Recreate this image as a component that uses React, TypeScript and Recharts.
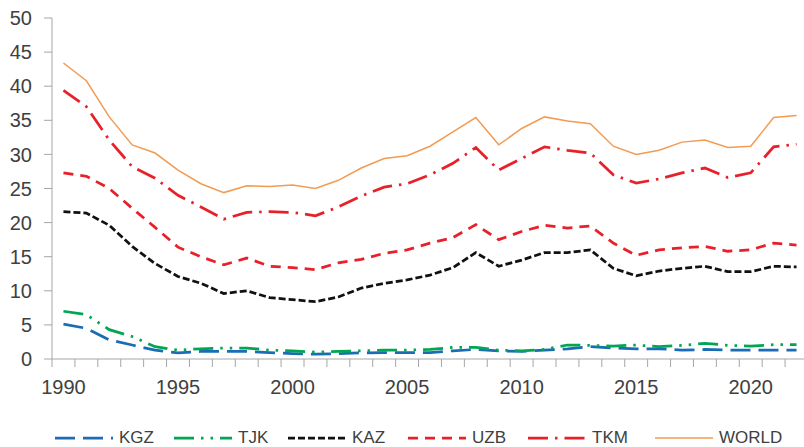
import React from 'react';
import { LineChart, Line, XAxis, YAxis, Legend } from 'recharts';

const YEARS = [1990, 1991, 1992, 1993, 1994, 1995, 1996, 1997, 1998, 1999, 2000, 2001, 2002, 2003, 2004, 2005, 2006, 2007, 2008, 2009, 2010, 2011, 2012, 2013, 2014, 2015, 2016, 2017, 2018, 2019, 2020, 2021, 2022];
const X_LABELS = [1990, 1995, 2000, 2005, 2010, 2015, 2020];
const Y_TICKS = [0, 5, 10, 15, 20, 25, 30, 35, 40, 45, 50];

const KGZ = [5.1, 4.5, 2.8, 2.05, 1.3, 0.9, 1.1, 1.1, 1.1, 0.95, 0.8, 0.7, 0.8, 0.9, 0.95, 0.95, 0.95, 1.2, 1.4, 1.2, 1.1, 1.3, 1.5, 1.8, 1.6, 1.5, 1.5, 1.3, 1.4, 1.3, 1.3, 1.3, 1.3];
const TJK = [7.0, 6.5, 4.3, 3.3, 1.8, 1.3, 1.5, 1.6, 1.6, 1.3, 1.2, 1.0, 1.1, 1.2, 1.3, 1.3, 1.4, 1.7, 1.7, 1.3, 1.2, 1.4, 2.05, 2.0, 1.9, 2.05, 1.8, 2.0, 2.3, 2.0, 1.9, 2.1, 2.1];
const KAZ = [21.6, 21.4, 19.6, 16.5, 14.0, 12.1, 11.1, 9.6, 10.0, 9.0, 8.7, 8.4, 9.1, 10.4, 11.1, 11.6, 12.3, 13.4, 15.6, 13.6, 14.5, 15.6, 15.6, 16.0, 13.3, 12.2, 12.9, 13.3, 13.6, 12.8, 12.8, 13.6, 13.5];
const UZB = [27.3, 26.8, 25.0, 22.1, 19.3, 16.4, 15.0, 13.8, 14.8, 13.6, 13.4, 13.1, 14.1, 14.6, 15.5, 16.0, 17.0, 17.8, 19.7, 17.5, 18.7, 19.6, 19.2, 19.5, 17.0, 15.2, 16.0, 16.3, 16.5, 15.8, 16.0, 17.0, 16.7];
const TKM = [39.4, 37.0, 32.1, 28.2, 26.5, 24.0, 22.3, 20.5, 21.5, 21.6, 21.5, 21.0, 22.3, 23.9, 25.2, 25.7, 27.0, 28.7, 31.0, 27.7, 29.4, 31.1, 30.6, 30.2, 27.0, 25.8, 26.4, 27.3, 28.0, 26.6, 27.3, 31.1, 31.5];
const WORLD = [43.4, 40.8, 35.5, 31.4, 30.2, 27.7, 25.7, 24.4, 25.4, 25.3, 25.5, 25.0, 26.2, 28.0, 29.4, 29.8, 31.2, 33.3, 35.4, 31.4, 33.8, 35.5, 34.9, 34.5, 31.2, 30.0, 30.6, 31.8, 32.1, 31.0, 31.2, 35.4, 35.7];

const FONT = '"Liberation Sans", Arial, sans-serif';
const TEXT_COLOR = '#404040';
const AXIS_COLOR = '#a6a6a6';

const SERIES = [
  { key: 'KGZ', values: KGZ, color: '#1a6db4', width: 2.75, dash: '20 8' },
  { key: 'TJK', values: TJK, color: '#00a651', width: 2.75, dash: '20 7 2.5 7 2.5 7' },
  { key: 'KAZ', values: KAZ, color: '#111111', width: 2.75, dash: '7 3' },
  { key: 'UZB', values: UZB, color: '#e8202a', width: 2.75, dash: '10 7' },
  { key: 'TKM', values: TKM, color: '#e8202a', width: 2.75, dash: '20 7 2.5 7' },
  { key: 'WORLD', values: WORLD, color: '#f29b52', width: 1.5, dash: undefined as string | undefined },
];

const data = YEARS.map((year, i) => {
  const row: Record<string, number> = { year };
  SERIES.forEach((s) => {
    row[s.key] = s.values[i];
  });
  return row;
});

// category boundaries (tick marks) plus label positions
const BOUNDARIES = [YEARS[0] - 0.5, ...YEARS.map((y) => y + 0.5)];
const X_TICKS = [...BOUNDARIES, ...X_LABELS].sort((a, b) => a - b);

const LEGEND_LEFT = [55, 174, 288, 408, 528, 655];

const XTick = (props: any) => {
  const { x, y, payload } = props;
  const v = payload.value as number;
  if (Number.isInteger(v)) {
    return (
      <text x={x} y={y + 35} textAnchor="middle" fill={TEXT_COLOR} fontSize={20} fontFamily={FONT}>
        {v}
      </text>
    );
  }
  return <line x1={x} x2={x} y1={y} y2={y + 8} stroke={AXIS_COLOR} strokeWidth={1} />;
};

const LegendContent = () => (
  <div style={{ position: 'relative', width: 804, height: 24, fontFamily: FONT, fontSize: 17, color: TEXT_COLOR }}>
    {SERIES.map((s, i) => (
      <div
        key={s.key}
        style={{ position: 'absolute', left: LEGEND_LEFT[i], top: 0, height: 24, display: 'flex', alignItems: 'center', whiteSpace: 'nowrap' }}
      >
        <svg width={58} height={24} style={{ display: 'block' }}>
          <line x1={0} x2={58} y1={12} y2={12} stroke={s.color} strokeWidth={s.width} strokeDasharray={s.dash} />
        </svg>
        <span style={{ marginLeft: 6, lineHeight: '24px' }}>{s.key}</span>
      </div>
    ))}
  </div>
);

export default function App() {
  return (
    <div style={{ position: 'absolute', left: 0, top: 0, width: 804, height: 447, overflow: 'hidden', background: '#ffffff' }}>
      <LineChart width={820} height={447} data={data} margin={{ top: 18, right: 12, bottom: 48, left: 0 }}>
        <XAxis
          dataKey="year"
          type="number"
          domain={[BOUNDARIES[0], BOUNDARIES[BOUNDARIES.length - 1]]}
          ticks={X_TICKS}
          interval={0}
          tickSize={0}
          tickMargin={0}
          tickLine={false}
          axisLine={{ stroke: AXIS_COLOR, strokeWidth: 1 }}
          tick={<XTick />}
          height={40}
        />
        <YAxis
          type="number"
          domain={[0, 50]}
          ticks={Y_TICKS}
          interval={0}
          width={52}
          tickSize={8}
          tickMargin={12}
          tickLine={{ stroke: AXIS_COLOR }}
          axisLine={{ stroke: AXIS_COLOR, strokeWidth: 1 }}
          tick={{ fill: TEXT_COLOR, fontSize: 20, fontFamily: FONT }}
        />
        {SERIES.map((s) => (
          <Line
            key={s.key}
            type="linear"
            dataKey={s.key}
            stroke={s.color}
            strokeWidth={s.width}
            strokeDasharray={s.dash}
            dot={false}
            activeDot={false}
            isAnimationActive={false}
          />
        ))}
        <Legend
          layout="horizontal"
          verticalAlign="middle"
          align="center"
          content={<LegendContent />}
          wrapperStyle={{ top: 426, left: 0, width: 804, height: 24 }}
        />
      </LineChart>
    </div>
  );
}
